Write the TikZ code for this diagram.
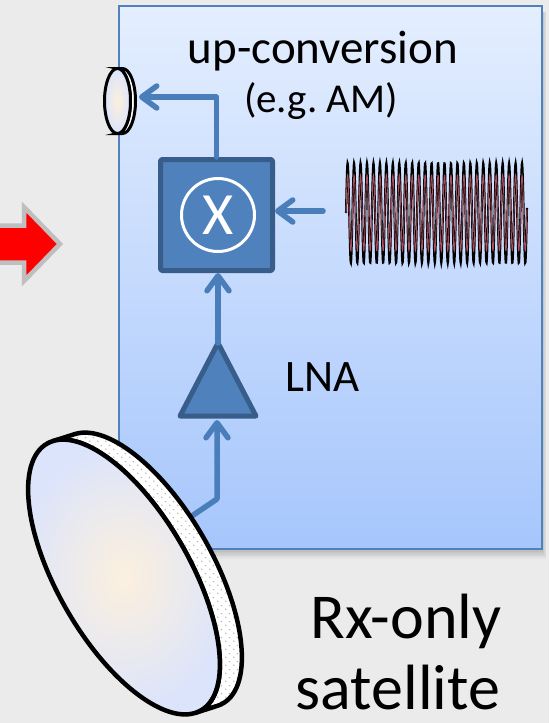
\documentclass[tikz,border=0pt]{standalone}
\usepackage{fontspec}
\setmainfont{Carlito}
\usetikzlibrary{arrows.meta,patterns}

\definecolor{bg}{HTML}{EBEBEB}
\definecolor{boxborder}{HTML}{4F81BD}
\definecolor{boxtop}{HTML}{E4EEFE}
\definecolor{boxbot}{HTML}{A6C6FC}
\definecolor{lineblue}{HTML}{4A7EBB}
\definecolor{mixfill}{HTML}{4F81BD}
\definecolor{mixborder}{HTML}{385D8A}
\definecolor{arrgray}{HTML}{BFBFBF}
\definecolor{dishcenter}{HTML}{FCF0DE}
\definecolor{dishedge}{HTML}{DCE4FB}
\definecolor{dotgray}{HTML}{B8B8B8}
\definecolor{wavered}{HTML}{A8505E}

% sparse staggered dots for the side of the dish
\pgfdeclarepatternformonly{sparsedots}{\pgfqpoint{0pt}{0pt}}{\pgfqpoint{8pt}{8pt}}{\pgfqpoint{8pt}{8pt}}{%
  \pgfpathcircle{\pgfqpoint{2pt}{2pt}}{0.9pt}%
  \pgfpathcircle{\pgfqpoint{6pt}{6pt}}{0.9pt}%
  \pgfusepath{fill}}

\tikzset{
  sig/.style={draw=lineblue, line width=5.5pt, line cap=round, line join=round,
    -{Straight Barb[length=15pt,width=22pt,round]}},
  block/.style={draw=mixborder, fill=mixfill, line width=5pt, line join=round},
  dishline/.style={draw=black, line width=4.5pt, line join=round},
  label/.style={inner sep=0pt, text=black},
}

\begin{document}
\begin{tikzpicture}[x=1pt,y=-1pt]
\useasboundingbox (0,0) rectangle (549,723);
\clip (0,0) rectangle (549,723);
\fill[bg] (0,0) rectangle (549,723);

% incoming block arrow
\draw[fill=red, draw=arrgray, line width=4.5pt, line join=miter]
  (-10,225.5) -- (24,225.5) -- (24,207) -- (60,244) -- (24,281) -- (24,262.5) -- (-10,262.5) -- cycle;

% soft shadow of the satellite box
\foreach \i in {1,...,7}
  \fill[black, opacity=0.03] (123,12) rectangle (542+\i*0.6, 549+\i*1.4);

% satellite box
\draw[draw=boxborder, line width=2pt, top color=boxtop, bottom color=boxbot]
  (119,6) rectangle (542,549);

% named points of the signal chain
\coordinate (horn) at (139,97);
\coordinate (lo) at (323,211);
\coordinate (lnaTop) at (218,343);
\coordinate (lnaIn) at (217,420);
\coordinate (bend) at (217,499);
\coordinate (feed) at (183,522);

% mixer
\node[block, rounded corners=1.5pt, minimum width=112pt, minimum height=111pt, inner sep=0pt]
  (mixer) at (216.5,215) {};
\node[draw=white, line width=3pt, circle, minimum size=73pt, inner sep=0pt, text=white,
  font=\fontsize{60}{64}\selectfont] (mul) at (218,215) {X};

% LNA
\draw[block] (lnaTop) -- (256,416) -- (180,416) -- cycle;

% connectors
\draw[sig] (mixer.north) |- (horn);
\draw[sig] (lo) -- ([yshift=4pt]mixer.east);
\draw[sig] (lnaTop) -- (lnaTop |- mixer.south);
\draw[sig] (feed) -- (bend) -- (lnaIn);

% local oscillator carrier
\draw[black, line width=2.1pt] plot[domain=0:181, samples=700]
  (\x+346, {213-50*sin(\x*55.727)});
\draw[wavered, line width=0.9pt] plot[domain=0:181, samples=700]
  (\x+346, {213-38*sin(\x*55.727)});

% labels
\node[label, anchor=base, font=\fontsize{47}{56}\selectfont] (upc) at (323,63) {up-conversion};
\node[label, anchor=base, font=\fontsize{41}{48}\selectfont] (eg) at (321,112) {(e.g.\ AM)};
\node[label, anchor=base west, font=\fontsize{45}{54}\selectfont] (lnatext) at (285,391) {LNA};
\node[label, anchor=base, font=\fontsize{64}{72}\selectfont] (rx) at (406,638) {Rx-only};
\node[label, anchor=base, font=\fontsize{64}{72}\selectfont] (sat) at (398,709) {satellite};

% receiving dish
\begin{scope}[shift={(124,577)}, rotate=-60]
  \draw[dishline, preaction={fill=white}, pattern=sparsedots, pattern color=dotgray]
    (-153.33,-6.16) -- (-148.39,-28.71)
    arc[start angle=-174.64, end angle=5.36, x radius=154, y radius=66]
    -- (153.33,6.16)
    arc[start angle=5.36, end angle=-174.64, x radius=154, y radius=66]
    -- cycle;
  \draw[dishline, inner color=dishcenter, outer color=dishedge]
    (0,0) ellipse[x radius=154, y radius=66];
\end{scope}

% transmitting horn
\draw[black, line width=3pt, fill=white]
  (117.5,68.5) -- (122.5,68.5)
  arc[start angle=-90, end angle=90, x radius=13, y radius=32.5]
  -- (117.5,133.5)
  arc[start angle=90, end angle=-90, x radius=13, y radius=32.5] -- cycle;
\draw[black, line width=3pt, inner color=dishcenter, outer color=dishedge]
  (117.5,101) ellipse[x radius=13, y radius=32.5];
\end{tikzpicture}
\end{document}
